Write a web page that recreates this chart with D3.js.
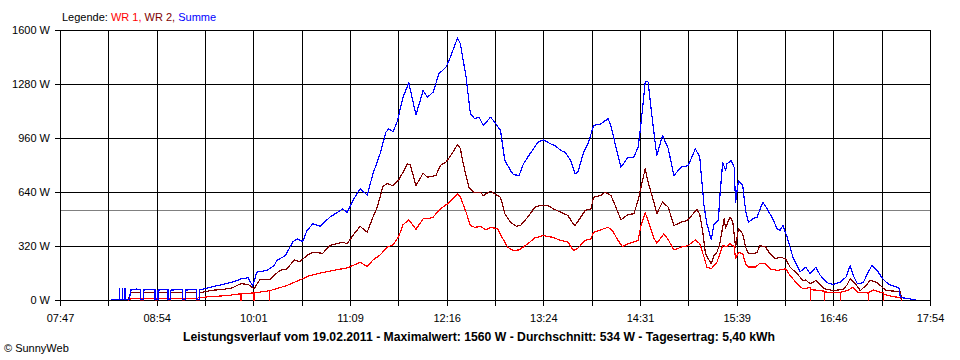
<!DOCTYPE html>
<html><head><meta charset="utf-8">
<script src="https://cdn.jsdelivr.net/npm/d3@7"></script>
<style>
body{margin:0;background:#fff;}
svg{display:block;font-family:"Liberation Sans",Arial,sans-serif;}
</style></head><body>
<svg id="c" width="960" height="360"></svg>
<script>
// ---- data ----
const xTickLabels = ["07:47","08:54","10:01","11:09","12:16","13:24","14:31","15:39","16:46","17:54"];
const yTickValues = [0,320,640,960,1280,1600];
const yTickLabels = ["0 W","320 W","640 W","960 W","1280 W","1600 W"];
const averageValue = 534;
const titleText = "Leistungsverlauf vom 19.02.2011 - Maximalwert: 1560 W - Durchschnitt: 534 W - Tagesertrag: 5,40 kWh";
const creditText = "\u00A9 SunnyWeb";
const legendLabel = "Legende: ";
const seriesNames = ["WR 1", "WR 2", "Summe"];

const wr1Series = [
["08:34",2],["08:36",10],["09:22",12],["09:24",18],["09:44",30],["09:53",40],["09:53",0],["09:53",40],
["10:02",45],["10:02",0],["10:02",45],["10:13",58],["10:13",0],["10:13",58],["10:25",89],["10:34",122],
["10:41",148],["10:48",162],["10:57",178],["11:07",193],["11:11",207],["11:16",227],["11:21",201],["11:25",240],
["11:30",270],["11:35",316],["11:39",330],["11:43",380],["11:46",449],["11:50",478],["11:55",422],["12:00",484],
["12:03",484],["12:07",494],["12:12",543],["12:17",573],["12:20",598],["12:24",632],["12:26",612],["12:30",523],
["12:33",444],["12:36",434],["12:40",438],["12:44",419],["12:47",434],["12:52",425],["12:55",375],["12:59",316],
["13:03",296],["13:07",300],["13:13",336],["13:18",371],["13:24",385],["13:30",375],["13:36",356],["13:41",346],
["13:45",296],["13:48",310],["13:53",356],["13:57",365],["13:59",405],["14:04",419],["14:09",434],["14:12",415],
["14:16",356],["14:19",320],["14:23",336],["14:30",356],["14:32",444],["14:35",520],["14:37",470],["14:41",370],
["14:43",340],["14:48",395],["14:51",360],["14:55",300],["15:00",316],["15:05",326],["15:10",360],["15:13",336],
["15:16",257],["15:18",198],["15:21",188],["15:25",227],["15:29",326],["15:32",320],["15:34",336],["15:37",320],
["15:38",247],["15:40",286],["15:43",277],["15:45",217],["15:47",198],["15:52",198],["15:55",221],["15:59",217],
["16:02",188],["16:07",178],["16:13",188],["16:16",148],["16:21",99],["16:25",69],["16:29",75],["16:30",75],
["16:30",0],["16:30",70],["16:32",63],["16:37",59],["16:40",55],["16:40",0],["16:40",52],["16:42",49],
["16:51",49],["16:51",0],["16:51",49],["16:56",59],["17:00",79],["17:03",49],["17:10",45],["17:11",45],
["17:11",0],["17:11",47],["17:14",63],["17:19",49],["17:21",45],["17:21",0],["17:21",40],["17:24",30],
["17:33",16],["17:34",0]
];

const wr2Series = [
["08:34",3],["08:36",45],["08:43",48],["08:43",3],["08:45",3],["08:45",45],["08:53",48],["08:53",3],
["08:55",3],["08:55",45],["09:02",48],["09:02",3],["09:04",3],["09:04",45],["09:12",48],["09:12",3],
["09:14",3],["09:14",45],["09:22",48],["09:22",3],["09:24",3],["09:24",45],["09:32",60],["09:39",65],
["09:46",72],["09:53",100],["09:58",95],["10:02",69],["10:06",122],["10:13",125],["10:20",178],["10:25",187],
["10:30",240],["10:34",230],["10:39",267],["10:43",286],["10:50",280],["10:55",326],["11:04",346],["11:07",336],
["11:11",385],["11:16",440],["11:21",405],["11:25",494],["11:28",553],["11:32",676],["11:35",693],["11:39",680],
["11:43",716],["11:46",760],["11:49",810],["11:51",805],["11:55",681],["12:00",754],["12:03",731],["12:09",741],
["12:12",800],["12:16",820],["12:20",869],["12:24",924],["12:26",900],["12:28",810],["12:32",671],["12:35",642],
["12:40",642],["12:42",622],["12:47",648],["12:50",632],["12:54",612],["12:57",514],["13:01",464],["13:05",440],
["13:08",445],["13:13",494],["13:18",553],["13:22",563],["13:27",563],["13:31",543],["13:36",523],["13:41",504],
["13:44",464],["13:46",444],["13:50",494],["13:53",533],["13:57",543],["13:59",612],["14:04",622],["14:07",642],
["14:11",622],["14:14",563],["14:18",478],["14:23",510],["14:27",514],["14:30",593],["14:33",711],["14:35",780],
["14:37",700],["14:41",583],["14:43",514],["14:47",583],["14:51",553],["14:55",444],["15:00",464],["15:04",474],
["15:07",500],["15:11",540],["15:13",510],["15:15",415],["15:17",277],["15:21",217],["15:23",267],["15:25",286],
["15:27",336],["15:30",484],["15:31",430],["15:34",494],["15:36",470],["15:38",316],["15:40",425],["15:43",395],
["15:45",316],["15:47",277],["15:51",277],["15:53",286],["15:55",326],["15:59",316],["16:02",277],["16:06",247],
["16:09",257],["16:13",247],["16:16",198],["16:21",158],["16:25",118],["16:27",122],["16:30",99],["16:34",118],
["16:37",95],["16:40",69],["16:46",59],["16:53",65],["16:56",95],["16:58",130],["17:02",95],["17:05",59],
["17:09",89],["17:12",120],["17:16",109],["17:19",89],["17:23",59],["17:33",53],["17:34",3]
];

const sumSeries = [
["08:22",5],["08:28",5],["08:28",70],["08:28",5],["08:30",5],["08:30",70],["08:30",5],["08:32",5],
["08:32",70],["08:32",5],["08:35",5],["08:36",62],["08:40",68],["08:43",65],["08:43",6],["08:45",6],
["08:45",62],["08:49",66],["08:53",64],["08:53",6],["08:55",6],["08:55",62],["09:02",65],["09:02",6],
["09:04",6],["09:04",62],["09:12",65],["09:12",6],["09:14",6],["09:14",62],["09:22",65],["09:22",6],
["09:24",6],["09:24",62],["09:32",79],["09:39",93],["09:48",112],["09:53",128],["09:58",135],["10:01",85],
["10:04",168],["10:11",178],["10:16",207],["10:18",237],["10:24",267],["10:29",346],["10:32",365],["10:36",350],
["10:39",415],["10:43",454],["10:48",440],["10:55",494],["11:04",543],["11:07",521],["11:11",593],["11:16",662],
["11:21",625],["11:25",751],["11:30",870],["11:34",997],["11:36",1017],["11:39",1000],["11:42",1062],["11:46",1205],
["11:50",1290],["11:55",1100],["12:00",1244],["12:03",1205],["12:07",1235],["12:11",1343],["12:16",1383],["12:19",1442],
["12:24",1555],["12:26",1521],["12:30",1323],["12:33",1106],["12:36",1077],["12:39",1086],["12:42",1037],["12:47",1086],
["12:50",1057],["12:54",1007],["12:57",830],["13:01",770],["13:03",746],["13:07",741],["13:10",810],["13:13",849],
["13:20",938],["13:24",952],["13:29",928],["13:32",919],["13:36",889],["13:39",879],["13:43",830],["13:46",751],
["13:48",760],["13:52",879],["13:55",928],["13:59",1037],["14:04",1047],["14:09",1077],["14:11",1037],["14:14",928],
["14:18",790],["14:23",849],["14:27",849],["14:30",909],["14:32",1047],["14:35",1300],["14:37",1295],["14:40",1067],
["14:43",859],["14:47",978],["14:51",901],["14:55",741],["15:00",790],["15:05",800],["15:10",899],["15:13",849],
["15:16",560],["15:18",454],["15:21",360],["15:23",454],["15:26",474],["15:27",612],["15:29",820],["15:31",770],
["15:32",810],["15:35",830],["15:37",790],["15:38",583],["15:40",711],["15:43",681],["15:45",533],["15:47",464],
["15:50",484],["15:53",494],["15:57",583],["16:00",543],["16:04",484],["16:07",425],["16:09",415],["16:11",445],
["16:14",375],["16:18",257],["16:23",170],["16:27",198],["16:30",158],["16:34",198],["16:37",150],["16:42",105],
["16:46",95],["16:51",109],["16:55",138],["16:58",207],["17:00",150],["17:03",99],["17:07",105],["17:10",158],
["17:13",207],["17:17",175],["17:21",125],["17:25",95],["17:32",75],["17:33",18],["17:44",4]
];

const seriesColors = ["#ff0000", "#800000", "#0000ff"];

// ---- drawing ----
const svg = d3.select("#c");
const parse = d3.timeParse("%H:%M");
const t0 = parse(xTickLabels[0]), t1 = parse(xTickLabels[xTickLabels.length - 1]);

const x = d3.scaleTime().domain([t0, t1]).range([60.5, 930.5]);
const y = d3.scaleLinear().domain([0, 1600]).range([300.5, 30.5]);

const nGrid = (xTickLabels.length - 1) * 2;
const gridTimes = d3.range(nGrid + 1).map(i => new Date(+t0 + i * (t1 - t0) / nGrid));

const g = svg.append("g").attr("shape-rendering", "crispEdges");

// average line
g.append("line")
  .attr("x1", x(t0)).attr("x2", x(t1))
  .attr("y1", y(averageValue)).attr("y2", y(averageValue))
  .attr("stroke", "#808080");

// vertical grid + ticks
g.selectAll("line.vg").data(gridTimes).join("line")
  .attr("class", "vg")
  .attr("x1", d => x(d)).attr("x2", d => x(d))
  .attr("y1", y(1600)).attr("y2", y(0) + 5)
  .attr("stroke", "#000");

// horizontal grid + ticks
g.selectAll("line.hg").data(yTickValues).join("line")
  .attr("class", "hg")
  .attr("x1", x(t0) - 6).attr("x2", x(t1))
  .attr("y1", d => y(d)).attr("y2", d => y(d))
  .attr("stroke", "#000");

// y labels
svg.selectAll("text.yl").data(yTickValues).join("text")
  .attr("class", "yl")
  .attr("x", 50).attr("y", d => y(d)).attr("dy", "0.36em")
  .attr("text-anchor", "end").attr("font-size", 11).attr("fill", "#000")
  .text((d, i) => yTickLabels[i]);

// x labels
svg.selectAll("text.xl").data(xTickLabels).join("text")
  .attr("class", "xl")
  .attr("x", (d, i) => x(gridTimes[i * 2]))
  .attr("y", 322)
  .attr("text-anchor", "middle").attr("font-size", 11).attr("fill", "#000")
  .text(d => d);

// series
const line = d3.line().x(d => x(parse(d[0]))).y(d => y(d[1]));
[wr1Series, wr2Series, sumSeries].forEach((s, i) => {
  svg.append("path").datum(s)
    .attr("d", line)
    .attr("fill", "none")
    .attr("stroke", seriesColors[i])
    .attr("stroke-width", 1.2)
    .attr("shape-rendering", "crispEdges")
    .attr("stroke-linejoin", "round");
});

// legend
const lg = svg.append("text").attr("x", 62).attr("y", 21).attr("font-size", 11);
lg.append("tspan").attr("fill", "#000").text(legendLabel);
seriesNames.forEach((n, i) => {
  lg.append("tspan").attr("fill", seriesColors[i]).text(n + (i < seriesNames.length - 1 ? ", " : ""));
});

// title
svg.append("text")
  .attr("x", 479).attr("y", 341)
  .attr("text-anchor", "middle").attr("font-size", 12).attr("font-weight", "bold")
  .attr("textLength", 592).attr("lengthAdjust", "spacingAndGlyphs")
  .text(titleText);

// credit
svg.append("text").attr("x", 4).attr("y", 352).attr("font-size", 11).text(creditText);
</script>
</body></html>
